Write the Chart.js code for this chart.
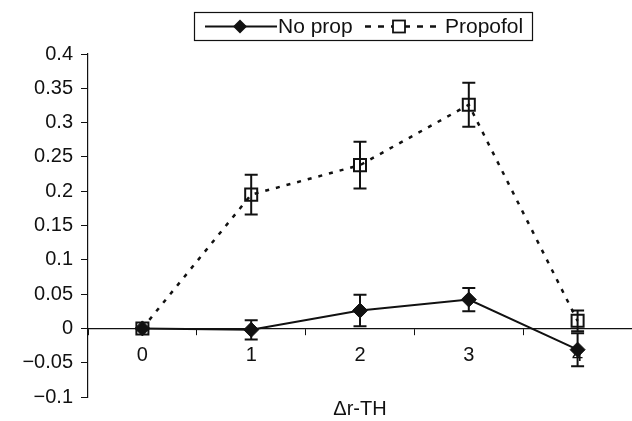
<!DOCTYPE html>
<html>
<head>
<meta charset="utf-8">
<title>Δr-TH</title>
<script src="https://cdn.jsdelivr.net/npm/chart.js@4"></script>
<style>
  html, body { margin: 0; padding: 0; background: #fff; }
  #wrap { width: 632px; height: 421px; }
</style>
</head>
<body>
<div id="wrap"><canvas id="chart" width="632" height="421"></canvas></div>
<script>
'use strict';

/* data */
const categories   = ['0', '1', '2', '3', '4'];
const noProp       = [0, -0.002, 0.026, 0.042, -0.031];
const noPropErr    = [0, 0.014, 0.023, 0.017, 0.024];
const propofol     = [0, 0.195, 0.238, 0.326, 0.011];
const propofolErr  = [0, 0.029, 0.034, 0.032, 0.015];
const yTicks       = [-0.1, -0.05, 0, 0.05, 0.1, 0.15, 0.2, 0.25, 0.3, 0.35, 0.4];

const FONT = "'Liberation Sans', Arial, Helvetica, sans-serif";
const errors = [noPropErr, propofolErr];

/* ──────────────────────────────────────────
   Error bars — drawn through the y scale
   ────────────────────────────────────────── */
const errorBars = {
  id: 'errorBars',
  beforeDatasetsDraw(chart) {
    const ctx = chart.ctx;
    const y = chart.scales.y;
    ctx.save();
    ctx.strokeStyle = '#111';
    ctx.lineWidth = 2;
    chart.data.datasets.forEach((ds, di) => {
      const meta = chart.getDatasetMeta(di);
      meta.data.forEach((pt, i) => {
        const e = errors[di][i];
        if (!e) return;
        const v = ds.data[i];
        const top = y.getPixelForValue(v + e);
        const bot = y.getPixelForValue(v - e);
        ctx.beginPath();
        ctx.moveTo(pt.x, top); ctx.lineTo(pt.x, bot);
        ctx.moveTo(pt.x - 6.5, top); ctx.lineTo(pt.x + 6.5, top);
        ctx.moveTo(pt.x - 6.5, bot); ctx.lineTo(pt.x + 6.5, bot);
        ctx.stroke();
      });
    });
    ctx.restore();
  }
};

/* ──────────────────────────────────────────
   Boxed legend (line + marker samples)
   ────────────────────────────────────────── */
const boxLegend = {
  id: 'boxLegend',
  afterDraw(chart) {
    const ctx = chart.ctx;
    const ly = 26.5;
    ctx.save();
    ctx.strokeStyle = '#111';
    ctx.lineWidth = 1.2;
    ctx.strokeRect(194.5, 12.5, 338, 28);

    // No prop: solid line + diamond
    ctx.lineWidth = 2;
    ctx.beginPath(); ctx.moveTo(205, ly); ctx.lineTo(277, ly); ctx.stroke();
    ctx.fillStyle = '#111';
    ctx.beginPath();
    ctx.moveTo(240, ly - 7); ctx.lineTo(247, ly); ctx.lineTo(240, ly + 7); ctx.lineTo(233, ly);
    ctx.closePath(); ctx.fill();

    // Propofol: dotted line + hollow square
    ctx.lineWidth = 2.5;
    ctx.setLineDash([6, 7]);
    ctx.beginPath(); ctx.moveTo(365, ly); ctx.lineTo(441, ly); ctx.stroke();
    ctx.setLineDash([]);
    ctx.fillStyle = '#fff';
    ctx.fillRect(393, ly - 6, 12, 12);
    ctx.lineWidth = 1.8;
    ctx.strokeRect(393, ly - 6, 12, 12);

    ctx.fillStyle = '#111';
    ctx.font = '21px ' + FONT;
    ctx.textBaseline = 'middle';
    ctx.fillText('No prop', 278, ly + 1);
    ctx.fillText('Propofol', 445, ly + 1);
    ctx.restore();
  }
};

const fmt = v => {
  const r = Math.round(v * 100) / 100;
  if (r === 0) return '0';
  return (r < 0 ? '\u2212' : '') + String(Math.abs(r));
};

new Chart(document.getElementById('chart'), {
  type: 'line',
  data: {
    labels: categories,
    datasets: [
      {
        label: 'No prop',
        data: noProp,
        borderColor: '#111',
        borderWidth: 2,
        pointStyle: 'rectRot',
        pointRadius: 7.5,
        pointBackgroundColor: '#111',
        pointBorderColor: '#111',
        pointBorderWidth: 1,
        tension: 0,
        fill: false,
      },
      {
        label: 'Propofol',
        data: propofol,
        borderColor: '#111',
        borderWidth: 2.5,
        borderDash: [4, 7],
        pointStyle: 'rect',
        pointRadius: 8.5,
        pointBackgroundColor: 'rgba(255,255,255,0)',
        pointBorderColor: '#111',
        pointBorderWidth: 2,
        tension: 0,
        fill: false,
      }
    ]
  },
  options: {
    responsive: false,
    devicePixelRatio: 1,
    animation: false,
    layout: { autoPadding: false, padding: { top: 54, bottom: 24, left: 0, right: -2 } },
    plugins: {
      legend: { display: false },
      tooltip: { enabled: false }
    },
    scales: {
      x: {
        type: 'category',
        position: { y: 0 },
        offset: true,
        afterFit: s => { s.paddingLeft = 0; s.paddingRight = 0; },
        grid: { display: true, offset: true, drawOnChartArea: false, drawTicks: true, tickLength: 6, color: '#111' },
        border: { display: true, color: '#111', width: 1.2 },
        ticks: { color: '#111', font: { family: FONT, size: 20 }, padding: 9, maxRotation: 0 },
        title: { display: true, text: '\u0394r-TH', color: '#111', font: { family: FONT, size: 20 }, padding: { top: 21, bottom: 0 } }
      },
      y: {
        min: -0.1,
        max: 0.4,
        afterBuildTicks: s => { s.ticks = yTicks.map(v => ({ value: v })); },
        afterFit: s => { s.width = 88; },
        grid: { display: true, drawOnChartArea: false, drawTicks: true, tickLength: 7, color: '#111' },
        border: { display: true, color: '#111', width: 1.2 },
        ticks: { color: '#111', font: { family: FONT, size: 20 }, padding: 8, callback: v => fmt(v) }
      }
    }
  },
  plugins: [errorBars, boxLegend]
});
</script>
</body>
</html>
